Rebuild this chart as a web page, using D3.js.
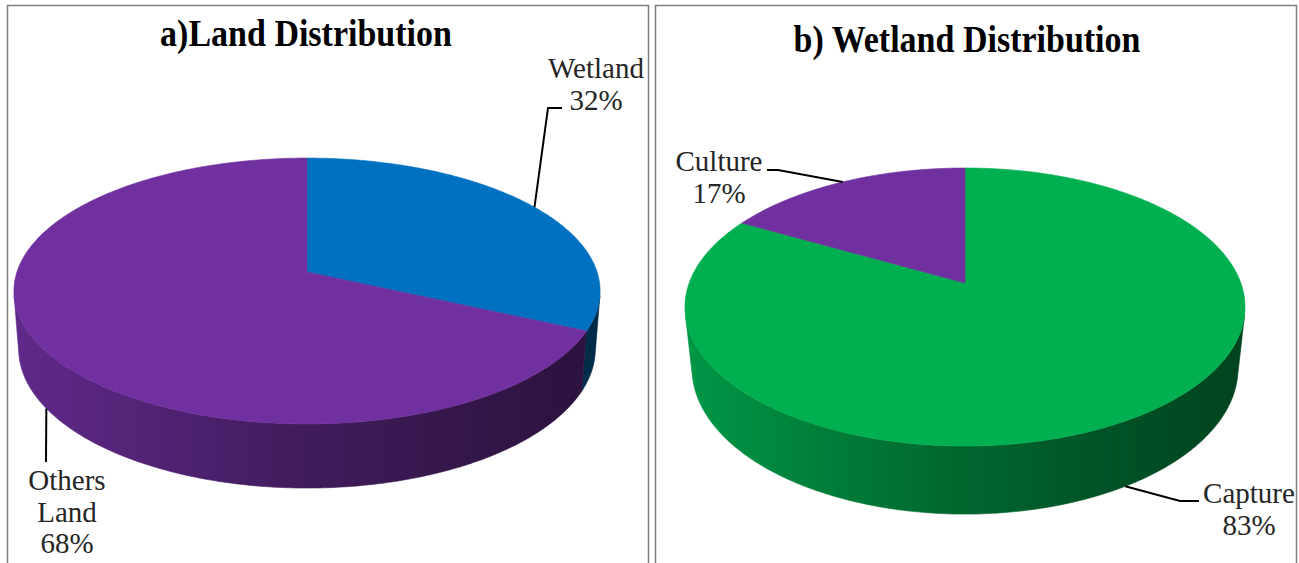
<!DOCTYPE html>
<html>
<head>
<meta charset="utf-8">
<script src="https://cdn.jsdelivr.net/npm/d3@7/dist/d3.min.js"></script>
<style>
  html, body { margin: 0; padding: 0; background: #ffffff; }
  svg { display: block; }
</style>
</head>
<body>
<svg id="chart" width="1299" height="563"></svg>
<script>
// ---------------- DATA ----------------
const landTitle = "a)Land Distribution";
const landCategories = ["Wetland", "Others Land"];
const landValues = [32, 68];
const landColors = ["#0070C0", "#7030A0"];

const wetTitle = "b) Wetland Distribution";
const wetCategories = ["Capture", "Culture"];
const wetValues = [83, 17];
const wetColors = ["#00B050", "#7030A0"];

// ---------------- LAYOUT ----------------
const svg = d3.select("#chart");
const defs = svg.append("defs");

const panels = [
  {
    x: 7, y: 5, w: 641, h: 600,
    title: landTitle, titleX: 306, titleY: 46,
    categories: landCategories, values: landValues, colors: landColors,
    pie: { cx: 307, cy: 272, S: 1813, k: 6.25, alpha: Math.asin(0.449), t: 0.2254 },
    labels: [
      { x: 596, y: 78, anchorFace: "top", leader: [[548, 108], [562, 108]] },
      { x: 67, y: 490, anchorFace: "bottom", leader: [[46, 462]] }
    ]
  },
  {
    x: 655, y: 5, w: 641, h: 600,
    title: wetTitle, titleX: 967, titleY: 52,
    categories: wetCategories, values: wetValues, colors: wetColors,
    pie: { cx: 965, cy: 283, S: 1393, k: 5.05, alpha: Math.asin(0.489), t: 0.258 },
    labels: [
      { x: 1249, y: 503, anchorFace: "bottom", leader: [[1180, 501], [1199, 501]] },
      { x: 719, y: 171, anchorFace: "top", leader: [[778, 170], [767, 170]] }
    ]
  }
];

const fontSerif = "'Liberation Serif', 'Times New Roman', Times, serif";

function scaleColor(hex, f) {
  const c = d3.rgb(hex);
  return d3.rgb(c.r * f, c.g * f, c.b * f).formatHex();
}

panels.forEach((P, pi) => {
  const g = svg.append("g");

  // panel border
  g.append("rect")
    .attr("x", P.x + 0.5).attr("y", P.y + 0.5)
    .attr("width", P.w).attr("height", P.h)
    .attr("fill", "none").attr("stroke", "#7f7f7f").attr("stroke-width", 1.5);

  // title (slightly tall, like the original)
  g.append("text")
    .attr("transform", `translate(${P.titleX},${P.titleY}) scale(1,1.1)`)
    .attr("text-anchor", "middle")
    .attr("font-family", fontSerif)
    .attr("font-weight", "bold")
    .attr("font-size", 34)
    .attr("fill", "#000")
    .text(P.title);

  const pc = P.pie;
  const sa = Math.sin(pc.alpha), ca = Math.cos(pc.alpha);
  // perspective projection of a rim point (theta from 12 o'clock, clockwise); h = depth below top face
  function proj(theta, h) {
    const u = Math.sin(theta), w = -Math.cos(theta);
    const den = pc.k - w * ca + h * sa;
    return [pc.cx + pc.S * u / den, pc.cy + pc.S * (w * sa + h * ca) / den];
  }
  const rx = pc.S / pc.k * 1.015;

  const pieGen = d3.pie().sort(null).value(d => d).startAngle(0).endAngle(2 * Math.PI);
  const arcs = pieGen(P.values);

  // visible range of the outer wall
  const ws = 1 / (pc.k * ca);
  const thS = Math.acos(-ws), thE = 2 * Math.PI - thS;

  function samples(a0, a1) {
    const n = Math.max(2, Math.ceil(Math.abs(a1 - a0) / (Math.PI / 360)));
    return d3.range(n + 1).map(i => a0 + (a1 - a0) * i / n);
  }

  // walls
  arcs.forEach((a, i) => {
    const lo = Math.max(a.startAngle, thS), hi = Math.min(a.endAngle, thE);
    if (hi <= lo) return;
    const gid = `wallGrad${pi}_${i}`;
    const grad = defs.append("linearGradient").attr("id", gid)
      .attr("gradientUnits", "userSpaceOnUse")
      .attr("x1", pc.cx - rx).attr("x2", pc.cx + rx).attr("y1", 0).attr("y2", 0);
    [[0, 0.86], [0.45, 0.6], [0.75, 0.47], [1, 0.38]].forEach(([o, f]) => {
      grad.append("stop").attr("offset", o).attr("stop-color", scaleColor(P.colors[i], f));
    });
    const top = samples(lo, hi).map(t => proj(t, 0));
    const bot = samples(hi, lo).map(t => proj(t, pc.t));
    g.append("path")
      .attr("d", "M" + top.concat(bot).map(p => p.join(",")).join("L") + "Z")
      .attr("fill", `url(#${gid})`)
      .attr("stroke", `url(#${gid})`).attr("stroke-width", 0.6);
  });

  // top faces
  arcs.forEach((a, i) => {
    const pts = [[pc.cx, pc.cy]].concat(samples(a.startAngle, a.endAngle).map(t => proj(t, 0)));
    g.append("path")
      .attr("d", "M" + pts.map(p => p.join(",")).join("L") + "Z")
      .attr("fill", P.colors[i])
      .attr("stroke", P.colors[i]).attr("stroke-width", 0.6);
  });

  // labels + leaders
  const total = d3.sum(P.values);
  arcs.forEach((a, i) => {
    const L = P.labels[i];
    const mid = (a.startAngle + a.endAngle) / 2;
    const anchor = proj(mid, L.anchorFace === "top" ? 0 : pc.t);
    const pts = [anchor].concat(L.leader);
    g.append("path")
      .attr("d", "M" + pts.map(p => p.join(",")).join("L"))
      .attr("fill", "none").attr("stroke", "#000").attr("stroke-width", 2);
    const pct = Math.round(P.values[i] / total * 100) + "%";
    const lines = P.categories[i].split(" ").concat([pct]);
    const txt = g.append("text")
      .attr("text-anchor", "middle")
      .attr("font-family", fontSerif)
      .attr("font-size", 29)
      .attr("fill", "#262626");
    lines.forEach((s, j) => {
      txt.append("tspan").attr("x", L.x).attr("y", L.y + j * 31.5).text(s);
    });
  });
});
</script>
</body>
</html>
